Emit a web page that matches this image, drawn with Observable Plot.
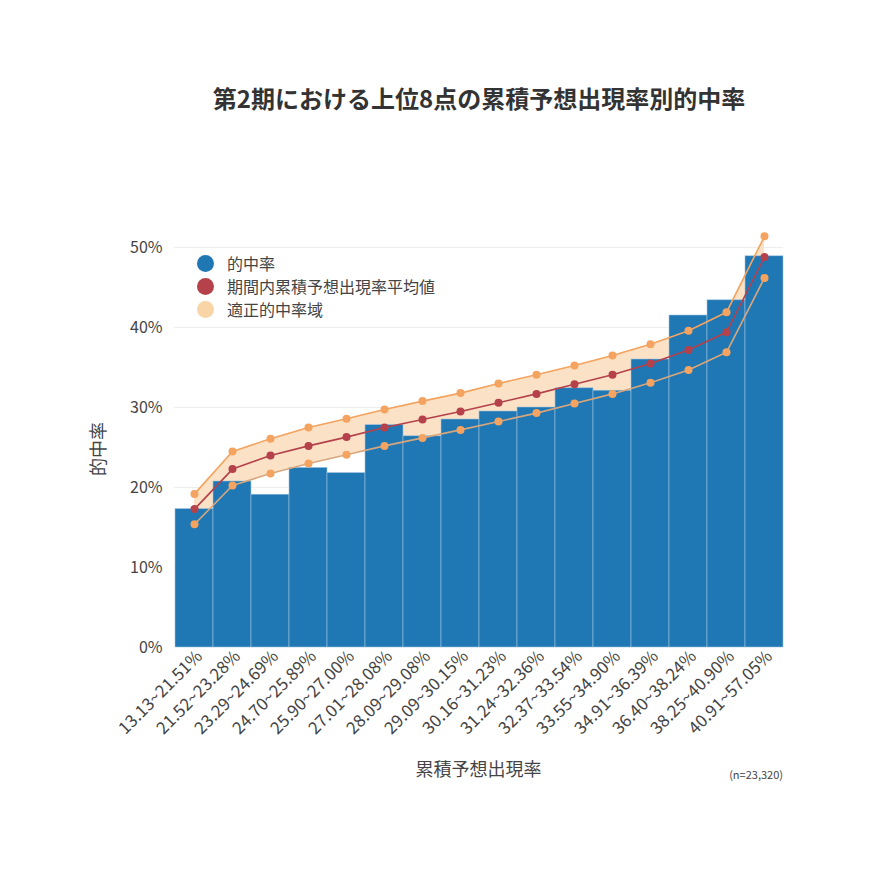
<!DOCTYPE html>
<html><head><meta charset="utf-8">
<script src="https://cdn.jsdelivr.net/npm/d3@7"></script>
<script src="https://cdn.jsdelivr.net/npm/@observablehq/plot@0.6"></script>
<style>
body{margin:0;background:#fff;font-family:"Noto Sans CJK JP","Noto Sans",sans-serif;}
#wrap{position:relative;width:870px;height:870px;}
.abs{position:absolute;white-space:nowrap;color:#444;}
#title{left:0;width:870px;padding-left:88px;box-sizing:border-box;text-align:center;top:80px;font-size:24px;font-weight:bold;color:#333;}
.leg{font-size:16px;display:flex;align-items:center;}
.leg span.c{display:inline-block;width:17px;height:17px;border-radius:50%;margin-right:13px;}
</style></head>
<body><div id="wrap">
<div id="chart"></div>
</div>
<script>
const categories = ["13.13~21.51%","21.52~23.28%","23.29~24.69%","24.70~25.89%","25.90~27.00%","27.01~28.08%","28.09~29.08%","29.09~30.15%","30.16~31.23%","31.24~32.36%","32.37~33.54%","33.55~34.90%","34.91~36.39%","36.40~38.24%","38.25~40.90%","40.91~57.05%"];
const hitRate = [17.3, 20.75, 19.1, 22.45, 21.8, 27.8, 26.4, 28.5, 29.5, 30.0, 32.4, 32.1, 36.0, 41.5, 43.4, 48.9];
const meanRate = [17.3, 22.3, 24.0, 25.2, 26.3, 27.5, 28.5, 29.5, 30.6, 31.7, 32.9, 34.1, 35.5, 37.2, 39.4, 48.8];
const upperRate = [19.2, 24.5, 26.1, 27.5, 28.6, 29.75, 30.8, 31.8, 33.0, 34.1, 35.25, 36.5, 37.9, 39.6, 41.9, 51.4];
const lowerRate = [15.4, 20.25, 21.75, 23.0, 24.1, 25.2, 26.2, 27.2, 28.25, 29.3, 30.5, 31.7, 33.1, 34.7, 36.9, 46.2];
const yTicks = [0, 10, 20, 30, 40, 50];
const titleText = "第2期における上位8点の累積予想出現率別的中率";
const xLabel = "累積予想出現率";
const yLabel = "的中率";
const note = "(n=23,320)";
const legendItems = [["的中率", "#1f77b4"], ["期間内累積予想出現率平均値", "#b5414b"], ["適正的中率域", "#f8d4a6"]];

const rows = categories.map((c, i) => ({c, hit: hitRate[i], mean: meanRate[i], up: upperRate[i], lo: lowerRate[i]}));

const plot = Plot.plot({
  width: 870, height: 870,
  marginLeft: 174, marginRight: 87, marginTop: 207, marginBottom: 223,
  style: {fontFamily: '"Noto Sans CJK JP","Noto Sans",sans-serif', color: "#444", background: "#fff"},
  x: {domain: categories, padding: 0, label: null},
  y: {domain: [0, 55], label: null},
  marks: [
    Plot.gridY(yTicks.slice(1), {stroke: "#eee", strokeOpacity: 1}),
    Plot.areaY(rows, {x: "c", y1: "lo", y2: "up", fill: "#fbe2c6", curve: "linear"}),
    Plot.barY(rows, {x: "c", y: "hit", fill: "#1f77b4", stroke: "#9fc2e0", strokeWidth: 0.6, inset: 0}),
    Plot.line(rows, {x: "c", y: "lo", stroke: "#d9a67c", strokeWidth: 1.6}),
    Plot.line(rows, {x: "c", y: "up", stroke: "#f4a460", strokeWidth: 1.6}),
    Plot.line(rows, {x: "c", y: "mean", stroke: "#b5414b", strokeWidth: 1.6}),
    Plot.dot(rows, {x: "c", y: "lo", r: 4, fill: "#f4a460"}),
    Plot.dot(rows, {x: "c", y: "up", r: 4, fill: "#f4a460"}),
    Plot.dot(rows, {x: "c", y: "mean", r: 4, fill: "#b5414b"}),
    Plot.axisY({ticks: yTicks, tickFormat: d => d + "%", tickSize: 0, tickPadding: 12, fontSize: 16, label: null}),
    Plot.axisX({tickRotate: -45, tickSize: 0, tickPadding: 6, dx: 5, fontSize: 17, label: null})
  ]
});
document.getElementById("chart").appendChild(plot);

const wrap = document.getElementById("wrap");
function addDiv(cls, id, text, css) {
  const d = document.createElement("div");
  d.className = cls; if (id) d.id = id; d.textContent = text;
  Object.assign(d.style, css || {}); wrap.appendChild(d); return d;
}
addDiv("abs", "title", titleText);
addDiv("abs", null, xLabel, {left: "0", width: "870px", paddingLeft: "87px", boxSizing: "border-box", textAlign: "center", top: "755px", fontSize: "18px"});
addDiv("abs", null, yLabel, {left: "70px", top: "436px", fontSize: "18px", transform: "rotate(-90deg)", transformOrigin: "center"});
addDiv("abs", null, note, {right: "87px", top: "766px", fontSize: "11px"});
legendItems.forEach(([t, col], i) => {
  const d = document.createElement("div");
  d.className = "abs leg";
  Object.assign(d.style, {left: "197px", top: (251 + i * 23) + "px"});
  const c = document.createElement("span"); c.className = "c"; c.style.background = col;
  const s = document.createElement("span"); s.textContent = t;
  d.appendChild(c); d.appendChild(s); wrap.appendChild(d);
});
</script>
</body></html>
